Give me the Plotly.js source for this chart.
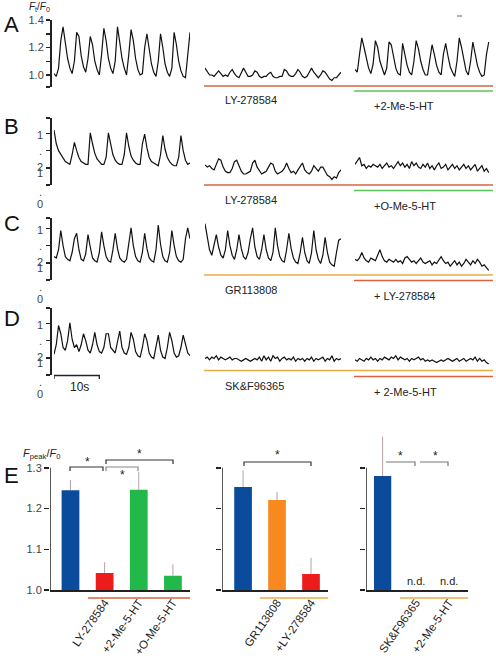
<!DOCTYPE html>
<html>
<head>
<meta charset="utf-8">
<script src="https://cdn.plot.ly/plotly-3.0.1.min.js"></script>
<style>html,body{margin:0;padding:0;background:#fff;}#chart{width:496px;height:663px;}</style>
</head>
<body>
<div id="chart"></div>
<script>
// ---------------- DATA ----------------
// sampling interval of the Ca2+ traces (seconds)
const dt = 0.5;
// Row A: control | LY-278584 | +2-Me-5-HT   (Ft/F0)
const traceA1 = [1.01,0.99,1.05,1.25,1.35,1.22,1.12,1.05,1.01,1.1,1.31,1.28,1.14,1.06,1.02,1.12,1.28,1.22,1.1,1.04,1.0,1.15,1.34,1.25,1.12,1.05,1.01,1.1,1.35,1.24,1.12,1.05,1.0,1.15,1.33,1.25,1.12,1.04,1.0,1.01,1.2,1.3,1.18,1.08,1.02,0.99,1.1,1.3,1.2,1.08,1.02,0.99,1.05,1.31,1.22,1.1,1.03,0.99,0.98,1.15,1.31];
const traceA2 = [1.05,1.02,1.0,1.0,0.99,1.01,1.03,1.01,0.99,1.0,0.99,1.02,1.04,1.01,0.99,0.98,1.01,1.05,1.02,0.99,0.99,1.0,1.03,1.02,0.99,0.98,0.99,0.99,1.01,1.02,0.99,0.98,0.98,0.99,0.99,1.04,1.03,1.0,0.99,0.99,1.01,1.04,1.02,0.99,0.98,0.99,1.02,1.05,1.02,1.0,0.98,1.0,1.03,1.02,0.99,0.97,0.96,0.98,0.98,1.0,1.02];
const traceA3 = [1.04,1.02,1.15,1.27,1.2,1.12,1.05,1.01,1.08,1.25,1.2,1.1,1.04,1.0,1.05,1.24,1.22,1.12,1.05,1.01,1.0,1.23,1.15,1.07,1.02,1.0,1.1,1.25,1.19,1.1,1.04,1.0,1.0,1.12,1.22,1.15,1.07,1.02,1.0,1.15,1.23,1.14,1.06,1.02,0.99,1.1,1.27,1.2,1.1,1.03,1.0,1.1,1.24,1.16,1.07,1.02,0.99,1.0,1.15,1.24];
// Row B: control | LY-278584 | +O-Me-5-HT
const traceB1 = [1.30,1.2,1.15,1.12,1.09,1.07,1.06,1.05,1.12,1.21,1.15,1.1,1.07,1.06,1.05,1.05,1.28,1.2,1.13,1.09,1.07,1.05,1.05,1.1,1.28,1.19,1.12,1.08,1.06,1.05,1.05,1.12,1.28,1.18,1.11,1.08,1.06,1.05,1.05,1.2,1.27,1.17,1.1,1.07,1.06,1.05,1.04,1.12,1.26,1.16,1.1,1.07,1.05,1.04,1.04,1.1,1.26,1.15,1.08,1.05,1.06];
const traceB2 = [1.045,1.03,1.04,1.02,1.01,1.05,1.09,1.08,1.03,1.0,0.99,0.99,1.02,1.07,1.08,1.04,1.0,0.98,0.98,0.99,1.0,1.06,1.08,1.03,1.0,0.98,0.99,1.0,1.03,1.06,1.05,1.0,0.98,0.99,1.0,1.02,1.06,1.02,0.99,1.0,0.98,1.01,1.04,1.06,1.01,0.99,0.98,1.0,1.04,1.02,1.0,1.03,1.03,1.0,0.97,0.96,0.94,0.96,0.95,0.99,1.01];
const traceB3 = [1.05,1.08,1.1,1.04,1.05,1.02,1.04,1.03,1.05,1.04,1.03,1.05,1.02,1.04,1.06,1.03,1.04,1.02,1.05,1.07,1.04,1.06,1.03,1.05,1.02,1.07,1.04,1.06,1.03,1.02,1.05,1.03,1.06,1.02,1.04,1.01,1.04,1.06,1.02,1.03,1.05,1.01,1.03,1.05,1.02,1.04,1.01,1.03,1.05,1.02,1.04,1.01,1.03,1.05,1.0,1.02,1.04,1.0,1.02,0.99];
// Row C: control | GR113808 | + LY-278584
const traceC1 = [1.07,1.06,1.12,1.26,1.15,1.07,1.05,1.04,1.1,1.2,1.24,1.12,1.05,1.04,1.09,1.23,1.14,1.06,1.04,1.03,1.1,1.25,1.15,1.07,1.04,1.03,1.12,1.24,1.13,1.06,1.04,1.03,1.05,1.18,1.28,1.15,1.07,1.04,1.03,1.1,1.24,1.13,1.06,1.04,1.03,1.12,1.3,1.16,1.07,1.04,1.03,1.1,1.26,1.15,1.07,1.04,1.03,1.05,1.2,1.28,1.2];
const traceC2 = [1.31,1.2,1.12,1.08,1.15,1.23,1.14,1.08,1.06,1.12,1.26,1.15,1.08,1.05,1.12,1.23,1.13,1.07,1.05,1.1,1.2,1.28,1.14,1.07,1.05,1.12,1.23,1.12,1.06,1.04,1.1,1.28,1.15,1.07,1.04,1.03,1.12,1.24,1.13,1.06,1.03,1.02,1.1,1.21,1.1,1.04,1.02,1.1,1.26,1.12,1.05,1.02,1.08,1.21,1.1,1.03,1.01,1.0,1.1,1.19,1.2];
const traceC3 = [1.05,1.04,1.06,1.1,1.06,1.04,1.03,1.06,1.05,1.04,1.08,1.12,1.07,1.04,1.03,1.05,1.04,1.03,1.05,1.03,1.04,1.02,1.06,1.07,1.05,1.03,1.04,1.02,1.04,1.06,1.03,1.02,1.03,1.04,1.01,1.03,1.02,1.05,1.07,1.04,1.02,1.03,1.0,1.02,1.04,1.01,1.03,1.0,1.02,1.05,1.03,1.01,1.04,1.02,1.05,1.03,1.0,1.01,0.99,0.97];
// Row D: control | SK&F96365 | + 2-Me-5-HT
const traceD1 = [1.05,1.12,1.26,1.2,1.1,1.08,1.15,1.28,1.16,1.1,1.12,1.07,1.12,1.2,1.15,1.08,1.06,1.12,1.21,1.12,1.07,1.06,1.1,1.2,1.2,1.1,1.08,1.06,1.14,1.22,1.1,1.06,1.05,1.1,1.21,1.16,1.07,1.04,1.03,1.1,1.2,1.15,1.06,1.03,1.02,1.1,1.19,1.08,1.03,1.02,1.1,1.21,1.15,1.06,1.03,1.04,1.1,1.19,1.12,1.06,1.04];
const traceD2 = [1.02,1.03,1.01,1.03,1.02,1.04,1.01,1.03,1.02,1.01,1.02,1.03,1.01,1.02,1.02,1.01,1.0,1.01,1.02,1.01,1.0,1.01,1.02,1.01,1.03,1.0,1.04,1.01,1.03,1.0,1.04,1.02,1.03,1.0,1.02,1.03,1.01,1.02,1.01,1.03,1.0,1.02,1.01,1.02,1.0,1.02,1.01,1.03,1.0,1.02,1.01,1.02,1.03,1.0,1.02,1.01,1.04,1.0,1.02,1.01,1.02];
const traceD3 = [1.01,1.0,1.02,1.01,1.0,1.02,1.01,1.03,1.01,1.02,1.0,1.02,1.01,1.03,1.02,1.01,1.03,1.02,1.04,1.01,1.03,1.02,1.01,1.02,1.0,1.02,1.01,1.02,1.03,1.01,1.02,1.0,1.01,1.0,1.01,1.0,0.99,1.0,1.01,1.0,1.01,1.02,1.01,1.0,1.01,1.02,1.0,1.01,1.02,1.0,1.01,1.02,1.01,1.03,1.0,1.02,1.0,1.01,0.99,0.98];

// Drug labels of the trace segments
const drugsA = ['LY-278584', '+2-Me-5-HT'];
const drugsB = ['LY-278584', '+O-Me-5-HT'];
const drugsC = ['GR113808', '+ LY-278584'];
const drugsD = ['SK&F96365', '+ 2-Me-5-HT'];
const scaleBarSeconds = 10;

// Panel E: Fpeak/F0 (first bar of each group = control, unlabeled)
const e1Labels = ['LY-278584', '+2-Me-5-HT', '+O-Me-5-HT'];
const e1Values = [1.245, 1.042, 1.246, 1.035];
const e1Err    = [0.025, 0.026, 0.044, 0.028];
const e2Labels = ['GR113808', '+LY-278584'];
const e2Values = [1.253, 1.221, 1.039];
const e2Err    = [0.040, 0.020, 0.040];
const e3Labels = ['SK&F96365', '+2-Me-5-HT'];
const e3Values = [1.280, null, null];
const e3Err    = [0.096, 0, 0];
const e3Notes  = ['', 'n.d.', 'n.d.'];
const eTicks   = [1.0, 1.1, 1.2, 1.3];

// ---------------- STYLE / LAYOUT HELPERS ----------------
const W = 496, H = 663;
const px = x => x / W;
const py = y => 1 - y / H;
const FONT = 'Arial, "Liberation Sans", sans-serif';
const BLUE = '#0b4b9b', RED = '#ee1b1b', GREEN = '#22b84a', ORANGE = '#f7891e';
const LRED = '#d8633c', LGREEN = '#5cc456', LORANGE = '#e9ad45';
const K = 0.4 / 55; // F/F0 per pixel in trace rows

const tIdx = arr => arr.map((_, i) => i * dt);

const traces = [];
function addTrace(y, xa, ya) {
  traces.push({type: 'scatter', mode: 'lines', x: tIdx(y), y: y, xaxis: xa, yaxis: ya,
    line: {color: '#111', width: 1.2}, hoverinfo: 'skip'});
}
addTrace(traceA1, 'x', 'y');  addTrace(traceA2, 'x2', 'y');  addTrace(traceA3, 'x3', 'y');
addTrace(traceB1, 'x', 'y2'); addTrace(traceB2, 'x2', 'y2'); addTrace(traceB3, 'x3', 'y2');
addTrace(traceC1, 'x', 'y3'); addTrace(traceC2, 'x2', 'y3'); addTrace(traceC3, 'x3', 'y3');
addTrace(traceD1, 'x', 'y4'); addTrace(traceD2, 'x2', 'y4'); addTrace(traceD3, 'x3', 'y4');

function bars(vals, err, colors, xa, ya) {
  traces.push({type: 'bar', x: vals.map((_, i) => i), y: vals, xaxis: xa, yaxis: ya,
    width: 0.52, marker: {color: colors, line: {width: 0}},
    error_y: {type: 'data', symmetric: false, array: err, arrayminus: err.map(() => 0),
      color: 'rgba(160,140,140,0.8)', thickness: 1, width: 0},
    hoverinfo: 'skip'});
}
bars(e1Values, e1Err, [BLUE, RED, GREEN, GREEN], 'x4', 'y5');
bars(e2Values, e2Err, [BLUE, ORANGE, RED], 'x5', 'y6');
bars(e3Values, e3Err, [BLUE, BLUE, BLUE], 'x6', 'y7');

const tickStyle = {ticks: 'outside', ticklen: 4, tickwidth: 1.5, tickcolor: '#222'};
// trace-row y axes (bracket style): labeled major ticks + unlabeled minor ticks
function rowAxis(topPx, botPx, top, major, minorFn) {
  const bottom = top - (botPx - topPx) * K;
  const ax = Object.assign({domain: [py(botPx), py(topPx)], range: [bottom - 1e-4, top + 1e-4],
    anchor: 'free', position: px(50), showline: true, linecolor: '#222', linewidth: 1.5,
    tickfont: {family: FONT, size: 11, color: '#444'}, showgrid: false, zeroline: false,
    fixedrange: true,
    minor: Object.assign({tickmode: 'array', tickvals: minorFn(bottom, top), showgrid: false}, tickStyle)}, tickStyle);
  if (major.length) { ax.tickvals = major; ax.ticktext = major.map(v => v.toFixed(1)); }
  else { ax.tickvals = minorFn(bottom, top); ax.showticklabels = false; }
  return ax;
}
const rowX = (l, r) => ({domain: [px(l), px(r)], range: [0, 30], visible: false, fixedrange: true});

const rowsBD = [[118, 185], [218, 280], [308, 375]];
const bdTicks = (b, t) => [b, 1.025, 1.15, 1.275, t];

const layout = {
  width: W, height: H, margin: {l: 0, r: 0, t: 0, b: 0},
  paper_bgcolor: '#fff', plot_bgcolor: 'rgba(0,0,0,0)', showlegend: false,
  font: {family: FONT, color: '#222'},
  xaxis: Object.assign(rowX(54, 190), {anchor: 'y'}),
  xaxis2: Object.assign(rowX(205, 341), {anchor: 'y'}),
  xaxis3: Object.assign(rowX(355, 491), {anchor: 'y'}),
  yaxis: rowAxis(20, 87, 1.4, [1.0, 1.2, 1.4], (b, t) => [b, 1.1, 1.3]),
  yaxis2: rowAxis(rowsBD[0][0], rowsBD[0][1], 0.9 + (rowsBD[0][1] - rowsBD[0][0]) * K, [], bdTicks),
  yaxis3: rowAxis(rowsBD[1][0], rowsBD[1][1], 0.9 + (rowsBD[1][1] - rowsBD[1][0]) * K, [], bdTicks),
  yaxis4: rowAxis(rowsBD[2][0], rowsBD[2][1], 0.9 + (rowsBD[2][1] - rowsBD[2][0]) * K, [], bdTicks),
  shapes: [], annotations: []
};

function barAxes(n, l, r, rng, labels, showNums) {
  const xa = 'xaxis' + n, ya = 'yaxis' + (n + 1);
  layout[xa] = {domain: [px(l), px(r)], range: rng, anchor: 'y' + (n + 1),
    showline: true, linecolor: '#222', linewidth: 1.5, ticks: '', showgrid: false, zeroline: false,
    tickvals: labels.map((_, i) => i + 1), ticktext: labels, tickangle: -55,
    tickfont: {family: FONT, size: 11.5, color: '#222'}, fixedrange: true};
  layout[ya] = {domain: [py(590), py(427)], range: [1.0, 1.4], anchor: 'x' + n,
    showline: false, ticks: 'outside', ticklen: 5, tickwidth: 1.5, tickcolor: '#222',
    tickvals: eTicks, ticktext: eTicks.map(v => v.toFixed(1)), showticklabels: showNums,
    tickfont: {family: FONT, size: 11, color: '#444'}, showgrid: false, zeroline: false, fixedrange: true};
  layout.shapes.push({type: 'line', xref: 'x' + n, yref: 'y' + (n + 1), x0: rng[0], x1: rng[0],
    y0: eTicks[0], y1: eTicks[eTicks.length - 1], line: {color: '#222', width: 1.5}});
}
barAxes(4, 50, 190, [-0.6, 3.5], e1Labels, true);
barAxes(5, 222, 328, [-0.62, 2.5], e2Labels, false);
barAxes(6, 366, 468, [-0.5, 2.57], e3Labels, false);

// --- decorations ---
function hline(x0, x1, y, color, w) {
  layout.shapes.push({type: 'line', xref: 'paper', yref: 'paper', x0: px(x0), x1: px(x1), y0: py(y), y1: py(y),
    line: {color: color, width: w || 1.6}});
}
function text(x, y, s, size, opts) {
  layout.annotations.push(Object.assign({xref: 'paper', yref: 'paper', x: px(x), y: py(y), text: s,
    showarrow: false, xanchor: 'left', yanchor: 'middle', font: {family: FONT, size: size, color: '#222'}}, opts || {}));
}
// drug bars under traces
hline(204, 493, 86, LRED);  hline(354, 493, 91, LGREEN);
hline(204, 493, 185, LRED); hline(354, 493, 190.5, LGREEN);
hline(204, 493, 275, LORANGE); hline(354, 493, 280.5, LRED);
hline(204, 493, 370.5, LORANGE); hline(354, 493, 376.5, LRED);
hline(88, 190, 598, LRED); hline(260, 328, 598, LORANGE); hline(400, 468, 598, LORANGE);
hline(457, 462, 16, '#666', 1);

const drugRows = [[drugsA, 100, 106], [drugsB, 200, 206], [drugsC, 290, 296], [drugsD, 386, 392]];
drugRows.forEach(r => { text(223, r[1], r[0][0], 11); text(372, r[2], r[0][1], 11); });

// panel letters
[['A', 25], ['B', 127], ['C', 223], ['D', 318], ['E', 475]].forEach(p =>
  text(2, p[1], p[0], 22, {font: {family: FONT, size: 22, color: '#111'}}));

// y labels
text(27, 7, '<i>F</i><sub>t</sub>/<i>F</i><sub>0</sub>', 10);
text(21, 454, '<i>F</i><sub>peak</sub>/<i>F</i><sub>0</sub>', 11);

// odd tick labels of rows B-D as printed in the figure
rowsBD.forEach(r => {
  const b = r[1];
  [['1', -50], ['.', -34], ['2', -18], ['1', -12], ['.', 7], ['0', 19]].forEach(l =>
    text(40, b + l[1], l[0], 11, {xanchor: 'center', font: {family: FONT, size: 11, color: '#444'}}));
});

// scale bar (10 s) under D control trace, drawn in time units
layout.shapes.push({type: 'path', xref: 'x', yref: 'paper',
  path: `M 0,${py(379)} L 0,${py(375.5)} L ${scaleBarSeconds},${py(375.5)} L ${scaleBarSeconds},${py(379)}`,
  line: {color: '#222', width: 1.3}});
text(68, 387, scaleBarSeconds + 's', 12);

// significance brackets
function bracket(x0, x1, y, d0, d1, color) {
  layout.shapes.push({type: 'path', xref: 'paper', yref: 'paper',
    path: `M ${px(x0)},${py(y + d0)} L ${px(x0)},${py(y)} L ${px(x1)},${py(y)} L ${px(x1)},${py(y + d1)}`,
    line: {color: color, width: 1.2}});
}
bracket(70, 103, 467, 4, 4, '#333'); text(87, 462, '*', 12, {xanchor: 'center'});
bracket(106, 173, 460, 4, 4, '#333'); text(139, 454, '*', 12, {xanchor: 'center'});
bracket(106, 138, 467, 4, 4, '#888'); text(122, 475, '*', 12, {xanchor: 'center'});
bracket(244, 311, 462, 4, 4, '#333'); text(277, 455, '*', 12, {xanchor: 'center'});
bracket(386, 415, 462, 0, 4, '#777'); text(400, 456, '*', 12, {xanchor: 'center'});
bracket(420, 448, 462, 0, 4, '#777'); text(435, 456, '*', 12, {xanchor: 'center'});

// n.d. notes
e3Notes.forEach((s, i) => {
  if (s) layout.annotations.push({xref: 'x6', yref: 'y7', x: i, y: 1.0, yanchor: 'bottom', yshift: 1,
    text: s, showarrow: false, font: {family: FONT, size: 11, color: '#222'}});
});

Plotly.newPlot('chart', traces, layout, {staticPlot: true, displayModeBar: false});
</script>
</body>
</html>
